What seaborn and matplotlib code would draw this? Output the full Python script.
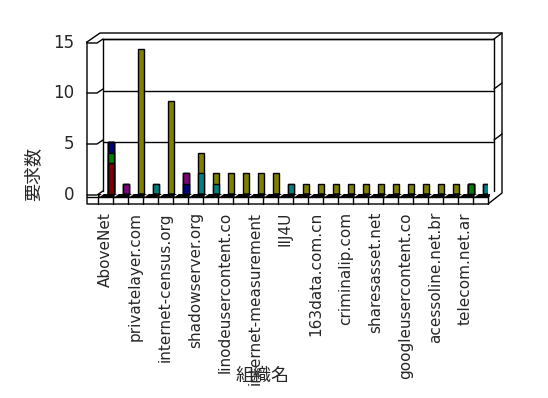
import numpy as np
import pandas as pd
import matplotlib.pyplot as plt
import seaborn as sns
from matplotlib.lines import Line2D
from matplotlib.patches import Rectangle

# ---------------- DATA ----------------
# 26 organisations, only every other name is printed on the axis
tick_labels = ["AboveNet", "privatelayer.com", "internet-census.org", "shadowserver.org",
               "linodeusercontent.co", "internet-measurement", "IIJ4U", "163data.com.cn",
               "criminalip.com", "sharesasset.net", "googleusercontent.co",
               "acessoline.net.br", "telecom.net.ar"]
n_orgs = 26

# stacked series, bottom to top
red    = [3, 0, 0, 0, 0, 0, 0, 0, 0, 0, 0, 0, 0, 0, 0, 0, 0, 0, 0, 0, 0, 0, 0, 0, 0, 0]
green  = [1, 0, 0, 0, 0, 0, 0, 0, 0, 0, 0, 0, 0, 0, 0, 0, 0, 0, 0, 0, 0, 0, 0, 0, 1, 0]
navy   = [1, 0, 0, 0, 0, 1, 0, 0, 0, 0, 0, 0, 0, 0, 0, 0, 0, 0, 0, 0, 0, 0, 0, 0, 0, 0]
purple = [0, 1, 0, 0, 0, 1, 0, 0, 0, 0, 0, 0, 0, 0, 0, 0, 0, 0, 0, 0, 0, 0, 0, 0, 0, 0]
teal   = [0, 0, 0, 1, 0, 0, 2, 1, 0, 0, 0, 0, 1, 0, 0, 0, 0, 0, 0, 0, 0, 0, 0, 0, 0, 1]
olive  = [0, 0, 14, 0, 9, 0, 2, 1, 2, 2, 2, 2, 0, 1, 1, 1, 1, 1, 1, 1, 1, 1, 1, 1, 0, 0]

series = [red, green, navy, purple, teal, olive]
colors = ["#800000", "#008000", "#000080", "#800080", "#008080", "#808000"]

sns.set_style("white")
plt.rcParams['font.family'] = ['DejaVu Sans', 'Noto Sans CJK JP']

W, H = 548, 398
fig = plt.figure(figsize=(W / 100, H / 100), dpi=100)

# plot area: x 98..488 px, y 0 -> 194 px, 15 -> 39 px
ax = fig.add_axes([98 / W, 1 - 194 / H, 390 / W, 155 / H])


def px(x, y):
    return x / W, 1 - y / H


def line(pts, color="black", lw=1.0):
    xs = [px(x, y)[0] for x, y in pts]
    ys = [px(x, y)[1] for x, y in pts]
    fig.add_artist(Line2D(xs, ys, color=color, lw=lw))


# gridlines on the back wall
for v in [5, 10, 15]:
    ax.axhline(v, xmin=5 / 390, xmax=396 / 390, color="black", lw=1, clip_on=False, zorder=0)

# stacked bars: draw cumulative totals from top series down
pos = np.arange(n_orgs) + 0.88
cum = np.cumsum(np.array(series), axis=0)
for i in range(len(series) - 1, -1, -1):
    df = pd.DataFrame({"x": pos, "y": cum[i]})
    sns.barplot(data=df, x="x", y="y", native_scale=True, color=colors[i],
                saturation=1, width=0.42, edgecolor="black", linewidth=1, ax=ax)

ax.set_xlim(0, n_orgs)
ax.set_ylim(0, 15)
for s in ax.spines.values():
    s.set_visible(False)
ax.patch.set_alpha(0)
ax.set_yticks([])
ax.set_xticks(np.arange(0, n_orgs, 2) + 0.5)
ax.set_xticklabels(tick_labels, rotation=90, fontsize=11, va="top")
ax.tick_params(axis="x", length=0, pad=13)
ax.set_xlabel("")
ax.set_ylabel("")

# ---------------- 3D FRAME ----------------
# outer box
line([(87, 42), (87, 204), (488, 204), (502, 193), (502, 33), (100, 33), (87, 42)])
# back wall
line([(103, 191), (103, 39), (494, 39), (494, 191)])
# left / right wall ticks
front_y = {0: 195, 5: 144, 10: 93, 15: 43}
for v, yf in front_y.items():
    line([(87, yf), (97, yf), (103, yf - 4)])
    fig.text(*px(74, yf), str(v), ha="right", va="center", fontsize=12)
for v in [5, 10, 15]:
    yb = front_y[v] - 4
    line([(494, yb), (502, yb - 6)])

# floor: dark top strip and front strip with cells
fig.add_artist(Rectangle(px(98, 197), 392 / W, 3 / H, color="black", lw=0))
line([(87, 197), (488, 197)])
for k in range(n_orgs + 1):
    x = 98 + 15 * k
    line([(x, 197), (x, 204)])
    line([(x + 2, 196), (x + 5, 194)], color="white", lw=0.8)

# axis titles
fig.text(*px(33, 174), "要求数", rotation=90, ha="center", va="center", fontsize=13,
         family=['Noto Sans CJK JP', 'DejaVu Sans'])
fig.text(*px(263, 376), "組織名", ha="center", va="center", fontsize=13,
         family=['Noto Sans CJK JP', 'DejaVu Sans'])

fig.savefig("out.png", dpi=100)
plt.close(fig)
